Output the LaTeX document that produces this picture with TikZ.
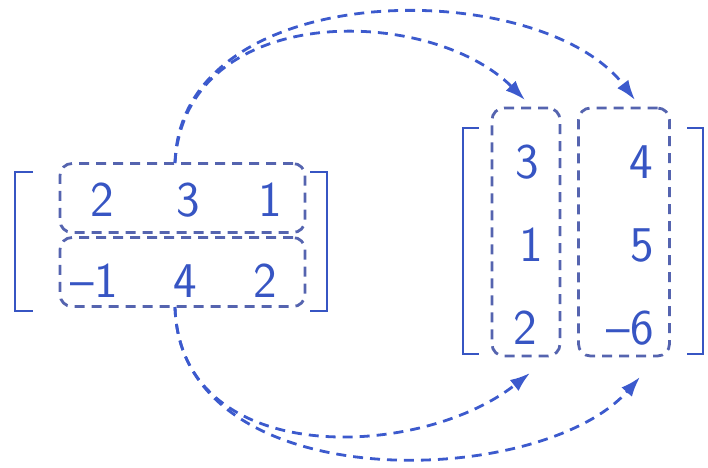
\documentclass[tikz,border=0pt]{standalone}
\usepackage{fontspec}
\usetikzlibrary{arrows.meta}
\definecolor{mblue}{RGB}{55,85,195}
\definecolor{bxblue}{RGB}{85,100,175}
\definecolor{arblue}{RGB}{60,90,205}
\tikzset{
  num/.style={font=\sffamily\fontsize{50}{52}\selectfont, text=mblue, inner sep=0pt, anchor=center},
  bracket/.style={draw=mblue, line width=2.8pt},
  dbox/.style={draw=bxblue, dash pattern=on 10pt off 7pt, line width=2.8pt, rounded corners=12pt, inner sep=0pt},
  flow/.style={draw=arblue, dash pattern=on 10pt off 7pt, line width=2.8pt, -{Latex[length=20pt,width=14pt]}},
}
\begin{document}
\begin{tikzpicture}[x=1pt,y=-1pt]
\useasboundingbox (0,0) rectangle (708,467);
% left matrix
\draw[bracket] (33,172) -- (15,172) -- (15,311) -- (33,311);
\draw[bracket] (310,172) -- (327,172) -- (327,311) -- (310,311);
\node[dbox, minimum width=245pt, minimum height=69pt] (r1) at (182.5,198) {};
\node[dbox, minimum width=245pt, minimum height=69pt] (r2) at (182.5,272) {};
\node[num] (a11) at (102,200) {2};
\node[num] (a12) at (188,200) {3};
\node[num] (a13) at (270,200) {1};
\node[num, anchor=east] (a21) at (118,281) {–1};
\node[num] (a22) at (185,281) {4};
\node[num] (a23) at (265,281) {2};
% right matrix
\draw[bracket] (479,128) -- (463,128) -- (463,354) -- (479,354);
\draw[bracket] (687,128) -- (703,128) -- (703,354) -- (687,354);
\node[dbox, minimum width=68pt, minimum height=248pt] (c1) at (526,232) {};
\node[dbox, minimum width=91pt, minimum height=248pt] (c2) at (624,232) {};
\node[num] (b11) at (527,162) {3};
\node[num] (b21) at (531,245) {1};
\node[num] (b31) at (525,328) {2};
\node[num] (b12) at (641,162) {4};
\node[num] (b22) at (642,245) {5};
\node[num, anchor=east] (b32) at (654,328) {–6};
% connectors
\coordinate (s1) at (175,163);
\coordinate (s2) at (175,307);
\coordinate (t1) at (525,100);
\coordinate (t2) at (635,100);
\coordinate (u1) at (530,373);
\coordinate (u2) at (640,377);
\draw[flow] (s1) .. controls (185,0) and (430,5) .. (t1);
\draw[flow] (s1) .. controls (180,-25) and (540,-25) .. (t2);
\draw[flow] (s2) .. controls (180,470) and (420,460) .. (u1);
\draw[flow] (s2) .. controls (180,500) and (540,490) .. (u2);
\end{tikzpicture}
\end{document}
